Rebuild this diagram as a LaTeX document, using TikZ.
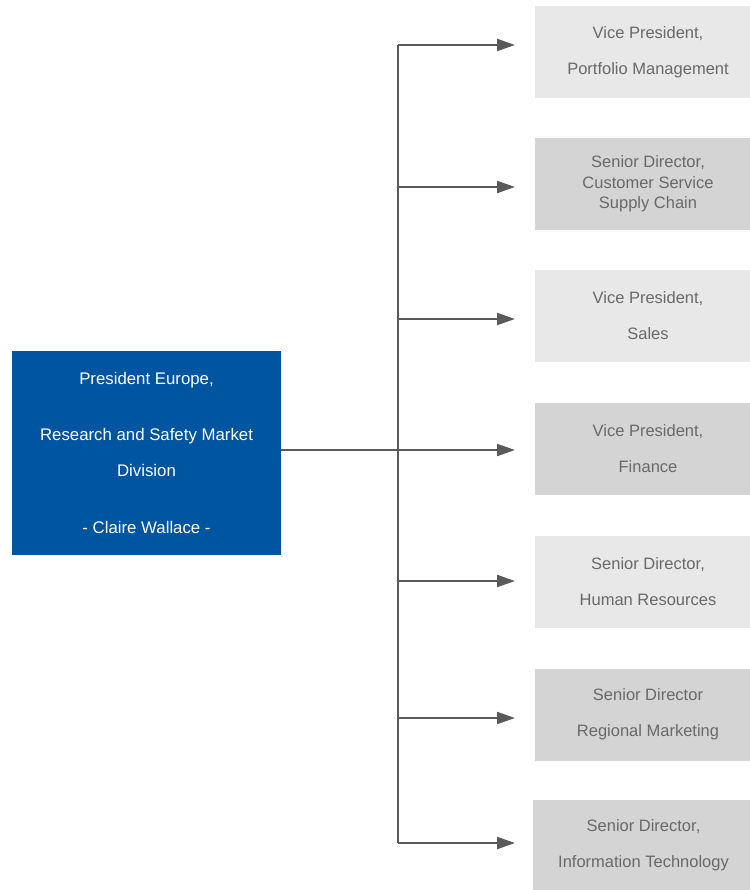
\documentclass[tikz,border=0pt]{standalone}
\usepackage{fontspec}
\setmainfont{Liberation Sans}
\usepackage{tikz}
\usetikzlibrary{arrows.meta,positioning}
\definecolor{presblue}{RGB}{0,85,160}
\definecolor{boxlight}{RGB}{232,232,232}
\definecolor{boxdark}{RGB}{212,212,212}
\definecolor{linegray}{RGB}{90,90,90}
\definecolor{textgray}{RGB}{105,105,105}

\begin{document}
\begin{tikzpicture}[x=1pt,y=-1pt,
	rolebox/.style={inner sep=0pt, align=center, text=textgray, minimum width=226pt, minimum height=92pt, font=\fontsize{16.5}{20.5}\selectfont},
	conn/.style={draw=linegray, line width=2pt},
	arr/.style={conn, -{Triangle[length=18pt,width=12pt]}}]
	%Page size of the reference
	\useasboundingbox (0,0) rectangle (749,890);
	%Spine x, tip x
	\pgfmathsetmacro{\sx}{398}
	\pgfmathsetmacro{\tx}{515}
	
	%The president box
	\node[fill=presblue, text=white, inner sep=0pt, align=center, minimum width=269pt, minimum height=204pt, font=\fontsize{16.8}{20.5}\selectfont] (pres) at (146.5,453)
	{President Europe,\\[35.5pt] Research and Safety Market\\[15.5pt] Division\\[36.5pt] - Claire Wallace -};
	
	%The role boxes (they run past the right edge)
	\node[rolebox, fill=boxlight] (vp1) at (648,52) {Vice President,\\[15.5pt] Portfolio Management};
	\node[rolebox, fill=boxdark] (sd1) at (648,184) {Senior Director,\\ Customer Service\\ Supply Chain};
	\node[rolebox, fill=boxlight] (vp2) at (648,316) {Vice President,\\[15.5pt] Sales};
	\node[rolebox, fill=boxdark] (vp3) at (648,449) {Vice President,\\[15.5pt] Finance};
	\node[rolebox, fill=boxlight] (sd2) at (648,581.5) {Senior Director,\\[15.5pt] Human Resources};
	\node[rolebox, fill=boxdark] (sd3) at (648,714.5) {Senior Director\\[15.5pt] Regional Marketing};
	\node[rolebox, fill=boxdark, minimum width=221pt, minimum height=90pt] (sd4) at (643.5,845) {Senior Director,\\[15.5pt] Information Technology};
	
	%Spine and arrow tips
	\foreach \i/\y in {1/45,2/187,3/319,4/450,5/581,6/718,7/843}{
		\coordinate (s\i) at (\sx,\y);
		\coordinate (t\i) at (\tx,\y);
	}
	\draw[conn] (s1) -- (s7);
	\draw[conn] (pres.east |- s4) -- (s4);
	\foreach \i in {1,...,7}
		\draw[arr] (s\i) -- (t\i);
\end{tikzpicture}
\end{document}
